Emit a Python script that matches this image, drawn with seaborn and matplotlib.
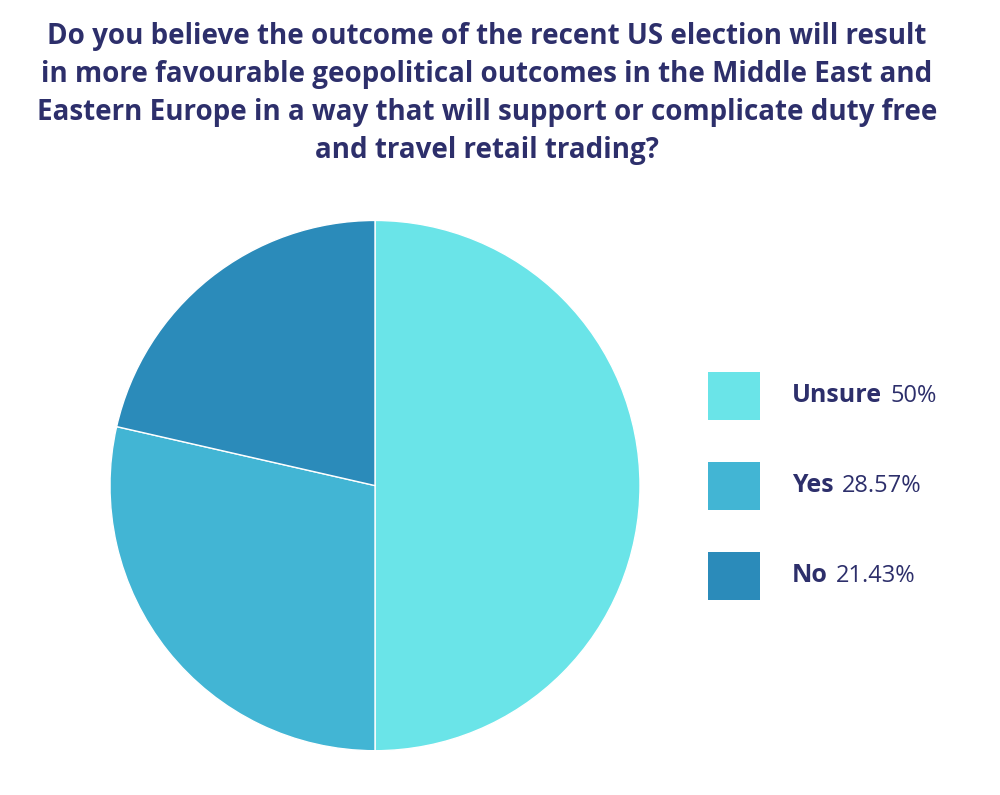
import matplotlib
matplotlib.use("Agg")
import matplotlib.pyplot as plt
import matplotlib.patches as mpatches
import seaborn as sns

labels = ["Unsure", "Yes", "No"]
values = [50, 28.57, 21.43]
value_text = ["50%", "28.57%", "21.43%"]
colors = ["#6ae4e8", "#42b5d4", "#2b8bba"]
title = ("Do you believe the outcome of the recent US election will result\n"
         "in more favourable geopolitical outcomes in the Middle East and\n"
         "Eastern Europe in a way that will support or complicate duty free\n"
         "and travel retail trading?")

sns.set_theme(style="white", font="Open Sans")
navy = "#2d2f6b"

fig = plt.figure(figsize=(10, 7.95), dpi=100)
fig.patch.set_facecolor("white")

ax = fig.add_axes([0.11, 0.0557, 0.53, 0.667])
ax.pie(values, colors=colors, startangle=90, counterclock=False,
       wedgeprops=dict(edgecolor="white", linewidth=1))
ax.set_xlim(-1, 1)
ax.set_ylim(-1, 1)
ax.set_aspect("auto")

fig.text(0.487, 0.972, title, ha="center", va="top", fontsize=20,
         fontweight="bold", color=navy, linespacing=1.4)

for i, (lab, val) in enumerate(zip(labels, value_text)):
    yc = 1 - (396 + i * 90) / 795
    fig.patches.append(mpatches.Rectangle((0.708, yc - 24 / 795), 0.052, 48 / 795,
                                          transform=fig.transFigure,
                                          facecolor=colors[i], edgecolor="none"))
    t = fig.text(0.792, yc, lab, ha="left", va="center", fontsize=18,
                 fontweight="bold", color=navy)
    fig.canvas.draw()
    bb = t.get_window_extent()
    fig.text(bb.x1 / 1000 + 0.008, yc, val, ha="left", va="center",
             fontsize=17, color=navy)

fig.savefig("out.png", dpi=100)
